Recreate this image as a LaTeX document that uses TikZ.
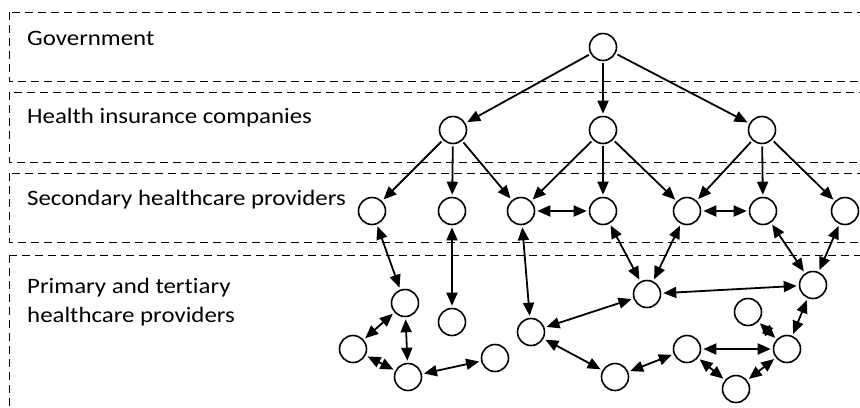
\documentclass[tikz,border=0pt]{standalone}
\usepackage{fontspec}
\setmainfont[Ligatures=NoCommon]{Carlito}
\usetikzlibrary{arrows.meta}
\newcommand{\layerlabel}[1]{\scalebox{1.13}[1]{#1}}
\begin{document}
\begin{tikzpicture}[x=1bp,y=-1bp,
  layerbox/.style={draw=black,line width=1bp,dash pattern=on 8bp off 5bp},
  layertext/.style={anchor=base west,inner sep=0pt,font=\fontsize{22bp}{30bp}\selectfont},
  actor/.style={circle,draw=black,line width=1.6bp,minimum size=27bp,inner sep=0pt},
  tip/.tip={Triangle[length=13bp,width=11bp]},
  link/.style={line width=1.8bp,shorten >=2bp,shorten <=2bp,-tip},
  mutual/.style={line width=1.8bp,shorten >=2bp,shorten <=2bp,tip-tip}]
\useasboundingbox (0,0) rectangle (860,407);
\clip (0,0) rectangle (860,407);

% layers
\draw[layerbox] (9,12) rectangle (875,81);
\draw[layerbox] (9,92) rectangle (875,162);
\draw[layerbox] (9,173) rectangle (875,242);
\draw[layerbox] (9,255) rectangle (875,420);

\node[layertext] (tgov) at (27,45) {\layerlabel{Government}};
\node[layertext] (tins) at (27,123) {\layerlabel{Health insurance companies}};
\node[layertext] (tsec) at (27,205) {\layerlabel{Secondary healthcare providers}};
\node[layertext] (tpri1) at (27,293) {\layerlabel{Primary and tertiary}};
\node[layertext] (tpri2) at (27,322) {\layerlabel{healthcare providers}};

% actors
\node[actor] (g) at (603,47) {};
\node[actor] (i1) at (453,130) {};
\node[actor] (i2) at (603,130) {};
\node[actor] (i3) at (762,130) {};
\node[actor] (s1) at (372,211) {};
\node[actor] (s2) at (452,211) {};
\node[actor] (s3) at (521,211) {};
\node[actor] (s4) at (603,211) {};
\node[actor] (s5) at (687,211) {};
\node[actor] (s6) at (763,211) {};
\node[actor] (s7) at (845,211) {};
\node[actor] (p1) at (405,303) {};
\node[actor] (p2) at (452,322) {};
\node[actor] (p3) at (353,349) {};
\node[actor] (p4) at (408,377) {};
\node[actor] (p5) at (495,358) {};
\node[actor] (p6) at (531,332) {};
\node[actor] (p7) at (647,294) {};
\node[actor] (p8) at (813,285) {};
\node[actor] (p9) at (748,312) {};
\node[actor] (p10) at (687,349) {};
\node[actor] (p11) at (787,349) {};
\node[actor] (p12) at (615,377) {};
\node[actor] (p13) at (736,389) {};

% funding flows
\foreach \a/\b in {g/i1,g/i2,g/i3,i1/s1,i1/s2,i1/s3,i2/s3,i2/s4,i2/s5,i3/s5,i3/s6,i3/s7}
  \draw[link] (\a) -- (\b);

% mutual relations
\foreach \a/\b in {s3/s4,s5/s6,s1/p1,s2/p2,s3/p6,s4/p7,s5/p7,s6/p8,s7/p8,
                   p1/p3,p1/p4,p3/p4,p4/p5,p6/p7,p7/p8,p6/p12,p12/p10,
                   p10/p11,p10/p13,p9/p11,p11/p13,p11/p8}
  \draw[mutual] (\a) -- (\b);
\end{tikzpicture}
\end{document}
